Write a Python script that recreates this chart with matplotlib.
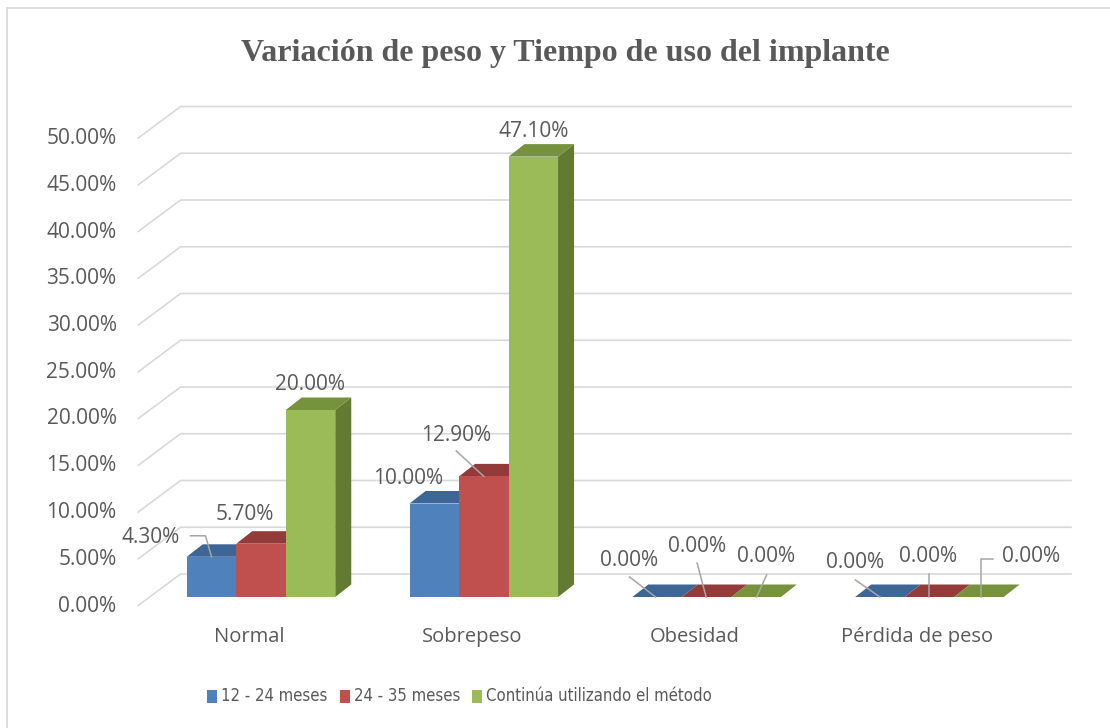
import numpy as np
import matplotlib.pyplot as plt
from matplotlib.patches import Polygon, Rectangle
from matplotlib.lines import Line2D
from matplotlib import font_manager

# data (percent)
categories = ['Normal', 'Sobrepeso', 'Obesidad', 'Pérdida de peso']
series_names = ['12 - 24 meses', '24 - 35 meses', 'Continúa utilizando el método']
meses_12_24 = [4.3, 10.0, 0.0, 0.0]
meses_24_35 = [5.7, 12.9, 0.0, 0.0]
continua = [20.0, 47.1, 0.0, 0.0]
y_ticks = [0, 5, 10, 15, 20, 25, 30, 35, 40, 45, 50]

series = [meses_12_24, meses_24_35, continua]

# colours: front / top / side faces
front_cols = ['#4f81bd', '#c0504d', '#9bbb59']
top_cols = ['#3d6595', '#933b39', '#77923c']
side_cols = ['#385d8a', '#8a3735', '#637a33']
text_col = '#595959'
grid_col = '#d9d9d9'

# layout (pixels of a 1110x728 canvas)
W, H = 1110, 728
CAT_PX = 222.8   # one category step
PCT_PX = 9.35    # one percent
X0, Y0 = 261, 597  # centre of first group, floor of bar plane
BAR_PX = 49.5

def dx(p):
    return p / CAT_PX

def dy(p):
    return p / PCT_PX

fig = plt.figure(figsize=(W / 100, H / 100), dpi=100)
ax = fig.add_axes([0, 0, 1, 1])
ax.set_xlim(-X0 / CAT_PX, (W - X0) / CAT_PX)
ax.set_ylim(-(H - Y0) / PCT_PX, Y0 / PCT_PX)
ax.axis('off')

ff = 'Open Sans'

# legend text in the reference is a narrow face; look for one installed
def find_narrow():
    prefs = ['Liberation Sans Narrow', 'Noto Sans', 'DejaVu Sans', 'Open Sans', 'Roboto']
    stretch_rank = {'condensed': 0, '300': 0, 'semi-condensed': 1, '400': 1, 'extra-condensed': 2, '200': 2}
    cands = []
    for f in font_manager.fontManager.ttflist:
        st = str(f.stretch)
        named = ('Narrow' in f.name) or ('Condensed' in f.name)
        if st not in stretch_rank and not named:
            continue
        if f.style != 'normal' or f.weight not in (400, 'normal', 'regular') or 'Mono' in f.name:
            continue
        srank = stretch_rank.get(st, 0)
        rank = next((j for j, p in enumerate(prefs) if f.name.startswith(p)), len(prefs))
        cands.append((srank, rank, f.fname))
    if cands:
        cands.sort()
        return font_manager.FontProperties(fname=cands[0][2], size=12)
    return font_manager.FontProperties(family='Open Sans', size=11)

leg_fp = find_narrow()

# chart border (only left / top visible)
fig.add_artist(Line2D([7 / W, 7 / W], [0, 1 - 8 / H], transform=fig.transFigure, color=grid_col, lw=1.2))
fig.add_artist(Line2D([7 / W, 1], [1 - 8 / H, 1 - 8 / H], transform=fig.transFigure, color=grid_col, lw=1.2))

# back wall gridlines with the left wall diagonal
x_left, x_right = -0.5, len(categories) - 0.5
for v in y_ticks:
    xs = [x_left - dx(12), x_left + dx(31), x_right + dx(31)]
    ys = [v - dy(9), v + dy(23), v + dy(23)]
    ax.plot(xs, ys, color=grid_col, lw=1.2, zorder=1, solid_capstyle='butt')
    ax.text(x_left - dx(12) - dx(21), v - dy(9), f'{v:.2f}%', ha='right', va='center',
            fontsize=15, color=text_col, family=ff)

# bars
bw = dx(BAR_PX)
ddx, ddy = dx(16), dy(12.5)
z = 2
for i in range(len(categories)):
    for k, vals in enumerate(series):
        v = vals[i]
        xl = i - 1.5 * bw + k * bw
        side = Polygon([(xl + bw, 0), (xl + bw + ddx, ddy), (xl + bw + ddx, v + ddy), (xl + bw, v)],
                       closed=True, facecolor=side_cols[k], edgecolor='none', zorder=z)
        top = Polygon([(xl, v), (xl + bw, v), (xl + bw + ddx, v + ddy), (xl + ddx, v + ddy)],
                      closed=True, facecolor=top_cols[k], edgecolor='none', zorder=z + 0.1)
        ax.add_patch(side)
        ax.add_patch(top)
        ax.bar(xl, v, width=bw, bottom=0, align='edge', color=front_cols[k], zorder=z + 0.2)
        z += 1

# data labels: (label offset, leader points) in pixels, up positive, relative to front-top centre
label_pos = [
    [((-60.5, 19), [(-21, 21), (-6, 21), (0, 0)]),
     ((-26.5, 25.5), None),
     ((-28.5, 37), [(-27.5, 20), (-1.5, 0)]),
     ((-24.5, 34), [(0, 0), (-24.5, 17)])],
    [((-16, 29), None),
     ((-28, 41), [(-27.5, 25.4), (0, 0)]),
     ((-9.5, 51), [(-9.5, 34), (-0.5, 0)]),
     ((-1.5, 40), [(-0.5, 23), (-0.5, 0)])],
    [((0, 25), None),
     ((0, 25.6), None),
     ((9.5, 40), [(10.5, 22), (0.5, 0)]),
     ((52.5, 40), [(14.5, 38), (2.5, 38), (2.5, 0)])],
]

for k, vals in enumerate(series):
    for i, v in enumerate(vals):
        cx = i - bw + k * bw
        off, leader = label_pos[k][i]
        if leader:
            ax.plot([cx + dx(p[0]) for p in leader], [v + dy(p[1]) for p in leader],
                    color='#a6a6a6', lw=1.1, zorder=50)
        ax.annotate(f'{v:.2f}%', xy=(cx, v), xytext=off, textcoords='offset pixels',
                    ha='center', va='center', fontsize=15, color=text_col, family=ff, zorder=60)

# category labels
for i, c in enumerate(categories):
    ax.text(i - dx(12), -dy(40), c, ha='center', va='center', fontsize=14.5, color=text_col, family=ff)

# title
fig.text(565 / W, 1 - 61 / H, 'Variación de peso y Tiempo de uso del implante', ha='center', va='baseline',
         fontsize=23, fontweight='bold', family='Liberation Serif', color=text_col)

# legend
leg_sq = [207, 340, 472]
for k, name in enumerate(series_names):
    fig.add_artist(Rectangle((leg_sq[k] / W, 1 - 703 / H), 9.5 / W, 13 / H, transform=fig.transFigure,
                             facecolor=front_cols[k], edgecolor='none'))
    fig.text((leg_sq[k] + 14) / W, 1 - 696 / H, name, ha='left', va='center',
             fontproperties=leg_fp, color=text_col)

fig.savefig('out.png', dpi=100)
